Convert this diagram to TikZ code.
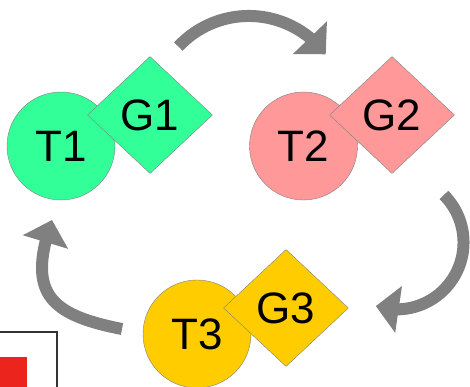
\documentclass[tikz,border=0pt]{standalone}
\usepackage{fontspec}
\setmainfont{Liberation Sans}
\usetikzlibrary{shapes.geometric,arrows.meta,bending}
\definecolor{tgreen}{RGB}{51,255,153}
\definecolor{tpink}{RGB}{255,153,153}
\definecolor{tyellow}{RGB}{255,204,0}
\definecolor{cycgray}{RGB}{128,128,128}
\definecolor{legendred}{RGB}{236,36,30}

\begin{document}
\begin{tikzpicture}[x=1pt, y=1pt,
tnode/.style={draw=cycgray, circle, minimum size=108pt, inner sep=0pt, font=\fontsize{44}{50}\selectfont},
gnode/.style={draw=cycgray, diamond, minimum width=125pt, minimum height=117pt, inner sep=0pt, font=\fontsize{44}{50}\selectfont},
cycarrow/.style={draw=cycgray, line width=12pt, -{Triangle[width=46pt,length=23pt,flex]}}]
\useasboundingbox (0,0) rectangle (470,387);
\node[tnode, fill=tgreen] (t1) at (61,241) {T1};
\node[gnode, fill=tgreen] (g1) at (150,272) {G1};
\node[tnode, fill=tpink] (t2) at (303.5,241) {T2};
\node[gnode, fill=tpink] (g2) at (392,272) {G2};
\node[tnode, fill=tyellow] (t3) at (197,53) {T3};
\node[gnode, fill=tyellow] (g3) at (286,79) {G3};
\coordinate (top start) at (178.4,340.4);
\coordinate (right start) at (443.9,192);
\coordinate (left start) at (122,58);
\coordinate (left end) at (52,167);
\draw[cycarrow] (top start) arc[start angle=137, end angle=37, radius=96.3];
\draw[cycarrow] (right start) arc[start angle=45, end angle=-108, radius=67];
\draw[cycarrow] (left start) to[out=169, in=-109, looseness=1.5] (left end);
\coordinate (legend top) at (0,55);
\coordinate (legend corner) at (57,55);
\coordinate (legend bottom) at (57,0);
\draw[line width=1.2pt, draw=black!80] (legend top) -- (legend corner) -- (legend bottom);
\fill[legendred] (0,0) rectangle (27,30);
\end{tikzpicture}
\end{document}
